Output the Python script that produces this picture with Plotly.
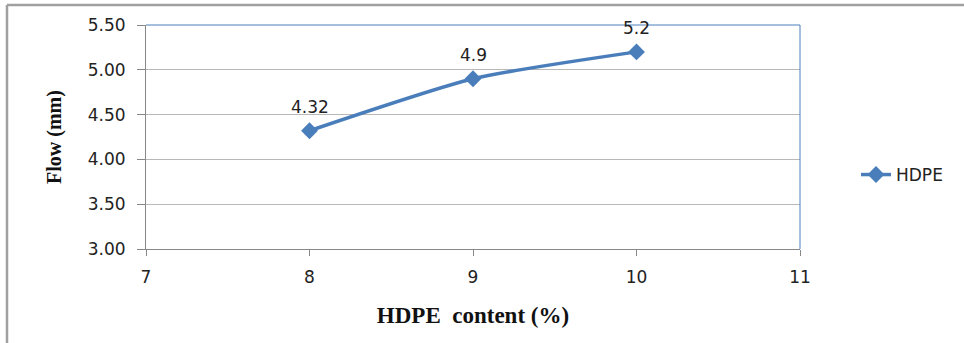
import plotly.graph_objects as go

hdpe_content = [8, 9, 10]
flow_mm = [4.32, 4.9, 5.2]
labels = ["4.32", "4.9", "5.2"]
series_name = "HDPE"

x_ticks = [7, 8, 9, 10, 11]
y_ticks = [3.0, 3.5, 4.0, 4.5, 5.0, 5.5]

BLUE = "#4a7ebb"
GRID = "#b8b8b8"
TXT = "#222222"

fig = go.Figure()
fig.add_trace(go.Scatter(
    x=hdpe_content, y=flow_mm, name=series_name, mode="lines+markers",
    line=dict(color=BLUE, width=3.5, shape="spline", smoothing=0.6),
    marker=dict(symbol="diamond", size=13, color=BLUE),
))

for xv, yv, t in zip(hdpe_content, flow_mm, labels):
    fig.add_annotation(x=xv, y=yv, text=t, showarrow=False, yshift=24,
                       font=dict(family="DejaVu Sans", size=17, color=TXT))

L, R, T, B = 146, 164, 25, 94
W, H = 964, 343
pw, ph = W - L - R, H - T - B

# outer frame (left and top edges)
fx0 = (7 - L) / pw
fy1 = 1 + (T - 5) / ph
fig.add_shape(type="line", xref="paper", yref="paper", x0=fx0, x1=(W - L) / pw,
              y0=fy1, y1=fy1, line=dict(color="#a0a0a0", width=2.5))
fig.add_shape(type="line", xref="paper", yref="paper", x0=fx0, x1=fx0,
              y0=fy1, y1=-(B) / ph, line=dict(color="#a0a0a0", width=2.5))
# plot area top/right border in blue
fig.add_shape(type="line", xref="paper", yref="paper", x0=0, x1=1, y0=1, y1=1,
              line=dict(color=BLUE, width=1))
fig.add_shape(type="line", xref="paper", yref="paper", x0=1, x1=1, y0=0, y1=1,
              line=dict(color=BLUE, width=1))

fig.update_layout(
    width=W, height=H,
    margin=dict(l=L, r=R, t=T, b=B),
    paper_bgcolor="white", plot_bgcolor="white",
    showlegend=True,
    legend=dict(x=(856 - L) / pw, y=(249 - 175) / ph, xanchor="left", yanchor="middle",
                font=dict(family="DejaVu Sans", size=17, color=TXT),
                bgcolor="rgba(0,0,0,0)", itemwidth=30),
    xaxis=dict(range=[7, 11], tickvals=x_ticks, ticktext=[str(v) for v in x_ticks],
               showgrid=False, zeroline=False, showline=True, linecolor="#888", linewidth=1,
               ticks="outside", ticklen=6, tickcolor="#888", ticklabelstandoff=7,
               tickfont=dict(family="DejaVu Sans", size=17, color=TXT),
               title=dict(text="HDPE\u00a0\u00a0content\u00a0(%)", standoff=20,
                          font=dict(family="Liberation Serif", size=23, color="#111", weight="bold"))),
    yaxis=dict(range=[3, 5.5], tickvals=y_ticks, ticktext=[f"{v:.2f}" for v in y_ticks],
               showgrid=True, gridcolor=GRID, gridwidth=1, zeroline=False,
               showline=True, linecolor="#888", linewidth=1,
               ticks="outside", ticklen=8, tickcolor="#888", ticklabelstandoff=8,
               tickfont=dict(family="DejaVu Sans", size=17, color=TXT),
               title=dict(text="Flow (mm)", standoff=20,
                          font=dict(family="Liberation Serif", size=20, color="#111", weight="bold"))),
)

fig.write_html("out.html", config={"displayModeBar": False},
               post_script="document.body.style.margin='0';")
